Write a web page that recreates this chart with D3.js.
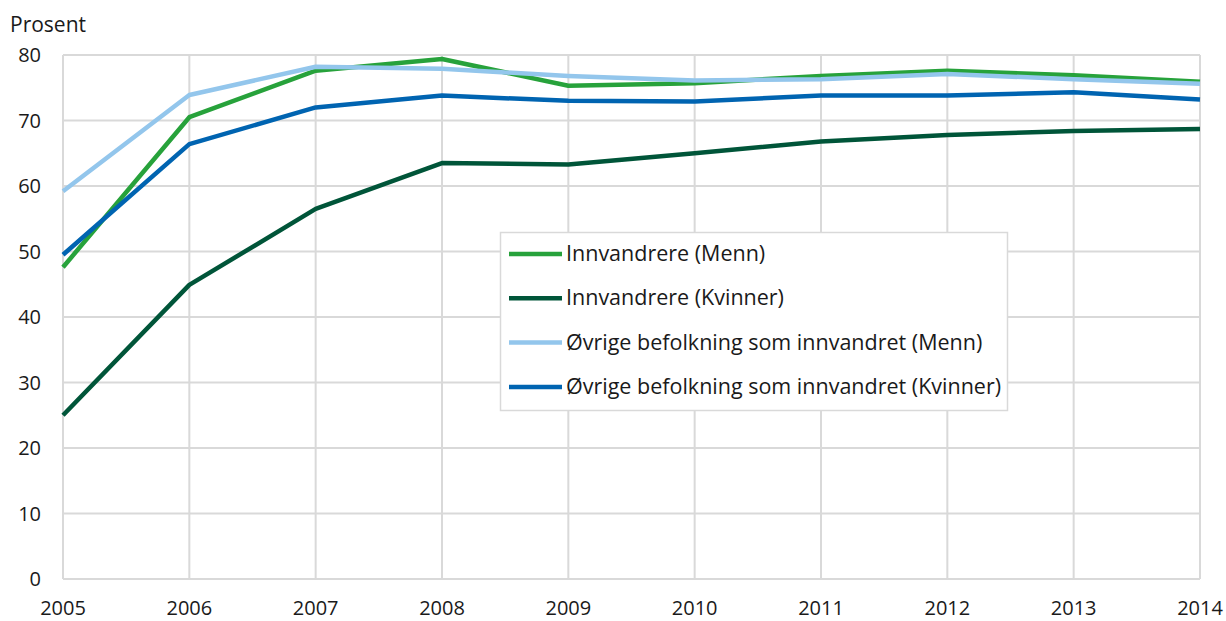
<!DOCTYPE html>
<html>
<head>
<meta charset="utf-8">
<script src="https://cdn.jsdelivr.net/npm/d3@7"></script>
<style>
body{margin:0;background:#fff;}
svg text{font-family:"Open Sans",sans-serif;fill:#1a1a1a;}
</style>
</head>
<body>
<div id="chart"></div>
<script>
var years=[2005,2006,2007,2008,2009,2010,2011,2012,2013,2014];
var yTicks=[0,10,20,30,40,50,60,70,80];
var seriesNames=["Innvandrere (Menn)","Innvandrere (Kvinner)","Øvrige befolkning som innvandret (Menn)","Øvrige befolkning som innvandret (Kvinner)"];
var seriesColors=["#27a23b","#005539","#93c6ec","#0064b1"];
var innvMenn=[47.6,70.5,77.6,79.4,75.3,75.7,76.8,77.6,76.9,75.9];
var innvKvinner=[25.0,44.9,56.5,63.5,63.3,65.0,66.8,67.8,68.4,68.7];
var ovrMenn=[59.2,73.9,78.2,77.9,76.8,76.1,76.3,77.1,76.3,75.6];
var ovrKvinner=[49.5,66.4,72.0,73.8,73.0,72.9,73.8,73.8,74.3,73.2];
var allSeries=[innvMenn,innvKvinner,ovrMenn,ovrKvinner];

var width=1226,height=621;
var plotL=63,plotR=1200,plotT=55,plotB=579;
var svg=d3.select("#chart").append("svg").attr("width",width).attr("height",height);

var x=d3.scaleLinear().domain([2005,2014]).range([plotL,plotR]);
var y=d3.scaleLinear().domain([0,80]).range([plotB,plotT]);

// grid
svg.append("g").selectAll("line").data(yTicks).enter().append("line")
	.attr("x1",plotL).attr("x2",plotR)
	.attr("y1",function(d){return y(d);}).attr("y2",function(d){return y(d);})
	.style("stroke","#d9d9d9").style("stroke-width",2);
svg.append("g").selectAll("line").data(years).enter().append("line")
	.attr("x1",function(d){return x(d);}).attr("x2",function(d){return x(d);})
	.attr("y1",plotT).attr("y2",plotB)
	.style("stroke","#d9d9d9").style("stroke-width",2);

// axes labels
svg.append("g").selectAll("text").data(yTicks).enter().append("text")
	.attr("x",41).attr("y",function(d){return y(d)+7;})
	.attr("text-anchor","end").style("font-size","20px")
	.text(function(d){return d;});
svg.append("g").selectAll("text").data(years).enter().append("text")
	.attr("x",function(d){return x(d);}).attr("y",615)
	.attr("text-anchor","middle").style("font-size","20px")
	.text(function(d){return d;});
svg.append("text").attr("x",10).attr("y",32).style("font-size","21px").text("Prosent");

// lines
var line=d3.line().x(function(d,i){return x(years[i]);}).y(function(d){return y(d);});
svg.append("g").selectAll("path").data(allSeries).enter().append("path")
	.attr("d",line)
	.style("fill","none")
	.style("stroke",function(d,i){return seriesColors[i];})
	.style("stroke-width",4.5)
	.style("stroke-linejoin","round");

// legend
var lg=svg.append("g");
lg.append("rect").attr("x",500.5).attr("y",232.5).attr("width",507).attr("height",178)
	.style("fill","#fff").style("stroke","#d9d9d9").style("stroke-width",1.5);
var item=lg.selectAll("g.item").data(seriesNames).enter().append("g")
	.attr("transform",function(d,i){return "translate(0,"+(254+i*44.3)+")";});
item.append("line").attr("x1",509).attr("x2",562).attr("y1",0).attr("y2",0)
	.style("stroke",function(d,i){return seriesColors[i];}).style("stroke-width",4.5);
item.append("text").attr("x",566).attr("y",7).style("font-size","21.5px").text(function(d){return d;});
</script>
</body>
</html>
